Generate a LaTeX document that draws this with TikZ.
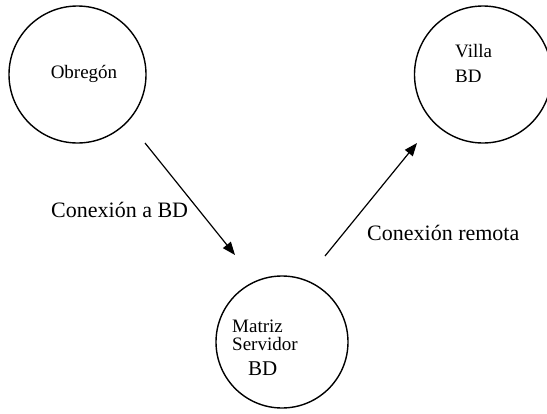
\documentclass[tikz,border=0pt]{standalone}
\usepackage{fontspec}
\setmainfont{Liberation Serif}
\usetikzlibrary{arrows.meta}
\begin{document}
\begin{tikzpicture}[x=1pt,y=-1pt,
  site/.style={draw, circle, line width=1.4pt, inner sep=0pt},
  lbl/.style={inner sep=0pt, font=\fontsize{19}{22}\selectfont},
  conn/.style={line width=1.2pt, -{Triangle[length=13pt,width=10pt]}},
  clbl/.style={inner sep=0pt, font=\fontsize{22}{25}\selectfont}]
\useasboundingbox (0,0) rectangle (547,413);
\clip (0,0) rectangle (547,413);
\node[site, minimum size=137pt] (obregon) at (77.5,74.5) {};
\node[site, minimum size=137pt] (villa) at (483,74.5) {};
\node[site, minimum size=132pt] (matriz) at (282,342) {};
% labels
\node[lbl] (tobr) at (84,74) {Obregón};
\node[lbl, anchor=base west] (tvilla) at (455,57) {Villa};
\node[lbl, anchor=base west] (tvbd) at (455,82) {BD};
\node[lbl, anchor=base west] (tmat) at (232,332) {Matriz};
\node[lbl, anchor=base west] (tserv) at (232,350) {Servidor};
\node[lbl, anchor=base west, font=\fontsize{21}{24}\selectfont] (tmbd) at (248,375) {BD};
% connectors
\coordinate (a1) at (145,143);
\coordinate (a2) at (235,255);
\coordinate (b1) at (325,256);
\coordinate (b2) at (417,143);
\draw[conn] (a1) -- (a2);
\draw[conn] (b1) -- (b2);
\node[clbl, anchor=base west] (c1) at (51,217) {Conexión a BD};
\node[clbl, anchor=base west] (c2) at (367,240) {Conexión remota};
\end{tikzpicture}
\end{document}
